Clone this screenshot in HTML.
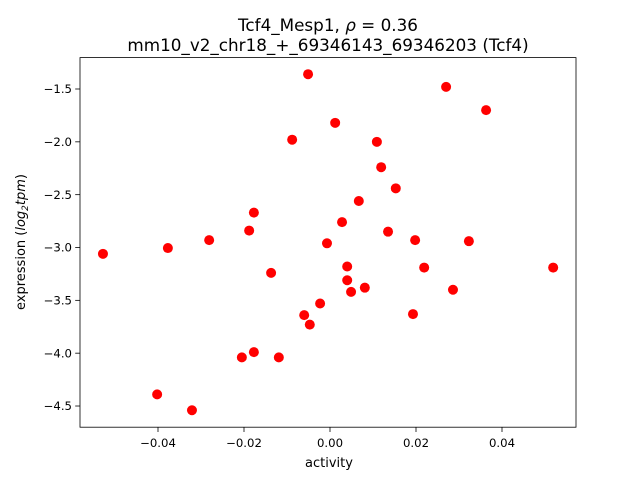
<!DOCTYPE html>
<html><head><meta charset="utf-8"><style>
body{margin:0;background:#fff;}
svg text{font-family:"DejaVu Sans","Liberation Sans",sans-serif;fill:#000;}
</style></head><body>
<svg id="chart" width="640" height="480" viewBox="0 0 640 480">
<rect width="640" height="480" fill="#fff"/>
<text x="328" y="31" font-size="16.8" text-anchor="middle">Tcf4_Mesp1, <tspan font-style="italic">ρ</tspan> = 0.36</text>
<text x="328" y="51" font-size="16.8" text-anchor="middle">mm10_v2_chr18_+_69346143_69346203 (Tcf4)</text>
<g id="ticks"></g>
<g id="points"></g>
<rect x="80" y="57.6" width="496" height="369.6" fill="none" stroke="#000" stroke-width="0.8"/>
<text x="329" y="467" font-size="13" text-anchor="middle">activity</text>
<text transform="translate(25,242) rotate(-90)" font-size="13" text-anchor="middle">expression (<tspan font-style="italic">log</tspan><tspan font-size="9" dy="3" font-style="italic">2</tspan><tspan dy="-3" font-style="italic">tpm</tspan>)</text>
</svg>
<script>
const xs = [-0.0528,-0.0377,-0.0281,-0.0402,-0.0321,-0.0205,-0.0177,-0.0119,-0.0188,-0.0177,-0.0137,-0.0088,-0.0051,-0.006,-0.0047,-0.0023,-0.0007,0.0012,0.0028,0.004,0.004,0.0049,0.0067,0.0081,0.0109,0.0119,0.0135,0.0153,0.0198,0.0193,0.0219,0.0286,0.027,0.0323,0.0363,0.0519];
const ys = [-3.06,-3.005,-2.93,-4.39,-4.54,-4.04,-3.99,-4.04,-2.84,-2.67,-3.24,-1.98,-1.36,-3.64,-3.73,-3.53,-2.96,-1.82,-2.76,-3.18,-3.31,-3.42,-2.56,-3.38,-2.00,-2.24,-2.85,-2.44,-2.93,-3.63,-3.19,-3.40,-1.48,-2.94,-1.70,-3.19];
const xTicks = [-0.04,-0.02,0,0.02,0.04];
const xTickLabels = ["−0.04","−0.02","0.00","0.02","0.04"];
const yTicks = [-1.5,-2.0,-2.5,-3.0,-3.5,-4.0,-4.5];
const yTickLabels = ["−1.5","−2.0","−2.5","−3.0","−3.5","−4.0","−4.5"];

const NS="http://www.w3.org/2000/svg";
function xScale(v){return 330+v*4300;}
function yScale(v){return 89+(-1.5-v)*105.67;}
const tg=document.getElementById('ticks');
xTicks.forEach((t,i)=>{
  const x=xScale(t);
  const l=document.createElementNS(NS,'line');
  l.setAttribute('x1',x);l.setAttribute('x2',x);l.setAttribute('y1',427.2);l.setAttribute('y2',432);
  l.setAttribute('stroke','#000');l.setAttribute('stroke-width','0.8');
  
  
  tg.appendChild(l);
  const tx=document.createElementNS(NS,'text');
  tx.setAttribute('x',x);tx.setAttribute('y',447);tx.setAttribute('font-size','11.7');tx.setAttribute('text-anchor','middle');
  tx.textContent=xTickLabels[i];
  
  
  tg.appendChild(tx);
});
yTicks.forEach((t,i)=>{
  const y=yScale(t);
  const l=document.createElementNS(NS,'line');
  l.setAttribute('x1',75.2);l.setAttribute('x2',80);l.setAttribute('y1',y);l.setAttribute('y2',y);
  l.setAttribute('stroke','#000');l.setAttribute('stroke-width','0.8');
  
  
  tg.appendChild(l);
  const tx=document.createElementNS(NS,'text');
  tx.setAttribute('x',72);tx.setAttribute('y',y+4.2);tx.setAttribute('font-size','11.7');tx.setAttribute('text-anchor','end');
  tx.textContent=yTickLabels[i];
  
  
  tg.appendChild(tx);
});
const pg=document.getElementById('points');
xs.forEach((v,i)=>{
  const c=document.createElementNS(NS,'circle');
  c.setAttribute('cx',xScale(v));c.setAttribute('cy',yScale(ys[i]));c.setAttribute('r',5);
  c.setAttribute('fill','#ff0000');
  
  
  pg.appendChild(c);
});
</script>
</body></html>
